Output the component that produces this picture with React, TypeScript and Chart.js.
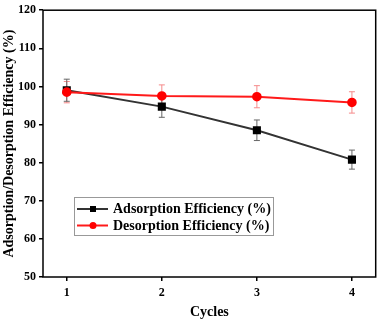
import React, { useEffect, useRef } from "react";
import { Chart, registerables } from "chart.js";

Chart.register(...registerables);

const cycles = [1, 2, 3, 4];
const adsorption = [99.0, 94.7, 88.5, 80.8];
const adsorptionErr = [2.9, 2.8, 2.7, 2.5];
const desorption = [98.5, 97.5, 97.3, 95.8];
const desorptionErr = [2.8, 2.9, 2.9, 2.8];
const yTicks = [50, 60, 70, 80, 90, 100, 110, 120];
const labels = ["Adsorption Efficiency (%)", "Desorption Efficiency (%)"];

const FONT = "'Liberation Serif', 'Times New Roman', serif";

export default function App() {
  const ref = useRef<HTMLCanvasElement | null>(null);
  useEffect(() => {
    document.body.style.margin = "0";
    const canvas = ref.current!;
    const errorBars = {
      id: "errorBars",
      beforeDatasetsDraw(chart: any) {
        const ctx = chart.ctx;
        const xs = chart.scales.x;
        const ys = chart.scales.y;
        chart.data.datasets.forEach((ds: any) => {
          const e: number[] = ds.errors;
          ctx.save();
          ctx.strokeStyle = ds.errColor;
          ctx.lineWidth = 1;
          ds.data.forEach((p: any, i: number) => {
            const px = xs.getPixelForValue(p.x);
            const top = ys.getPixelForValue(p.y + e[i]);
            const bot = ys.getPixelForValue(p.y - e[i]);
            ctx.beginPath();
            ctx.moveTo(px, top);
            ctx.lineTo(px, bot);
            ctx.moveTo(px - 3, top);
            ctx.lineTo(px + 3, top);
            ctx.moveTo(px - 3, bot);
            ctx.lineTo(px + 3, bot);
            ctx.stroke();
          });
          ctx.restore();
        });
      },
    };
    const frame = {
      id: "frame",
      afterDraw(chart: any) {
        const ctx = chart.ctx;
        const a = chart.chartArea;
        ctx.save();
        ctx.strokeStyle = "#000";
        ctx.lineWidth = 1.5;
        ctx.strokeRect(a.left, a.top, a.right - a.left, a.bottom - a.top);
        // legend
        const bx = 74, by = 197, bw = 199, bh = 38;
        ctx.fillStyle = "#fff";
        ctx.fillRect(bx, by, bw, bh);
        ctx.strokeStyle = "#999";
        ctx.lineWidth = 1;
        ctx.strokeRect(bx + 0.5, by + 0.5, bw, bh);
        const order = [1, 0];
        order.forEach((di, row) => {
          const ds = chart.data.datasets[di];
          const y = 209 + row * 16.5;
          ctx.strokeStyle = ds.borderColor;
          ctx.lineWidth = 2;
          ctx.beginPath();
          ctx.moveTo(77, y);
          ctx.lineTo(108, y);
          ctx.stroke();
          ctx.fillStyle = ds.pointBackgroundColor;
          if (ds.pointStyle === "rect") {
            ctx.fillRect(93 - 3, y - 3, 6, 6);
          } else {
            ctx.beginPath();
            ctx.arc(93, y, 3.5, 0, Math.PI * 2);
            ctx.fill();
          }
          ctx.fillStyle = "#000";
          ctx.font = `bold 14px ${FONT}`;
          ctx.textBaseline = "middle";
          ctx.textAlign = "left";
          ctx.fillText(ds.label, 113, y + 0.5);
        });
        ctx.restore();
      },
    };
    const chart = new Chart(canvas, {
      type: "line",
      data: {
        datasets: [
          {
            label: labels[1],
            data: cycles.map((c, i) => ({ x: c, y: desorption[i] })),
            borderColor: "#ff1a1a",
            backgroundColor: "#ff0000",
            pointBackgroundColor: "#ff0000",
            pointBorderColor: "#ff0000",
            pointStyle: "circle",
            pointRadius: 3.8,
            borderWidth: 2,
            errors: desorptionErr,
            errColor: "#f58a8a",
          } as any,
          {
            label: labels[0],
            data: cycles.map((c, i) => ({ x: c, y: adsorption[i] })),
            borderColor: "#333333",
            backgroundColor: "#000",
            pointBackgroundColor: "#000",
            pointBorderColor: "#000",
            pointStyle: "rect",
            pointRadius: 4.3,
            borderWidth: 2,
            errors: adsorptionErr,
            errColor: "#666666",
          } as any,
        ],
      },
      options: {
        animation: false,
        responsive: false,
        layout: { padding: { top: 6, right: 3, left: 0, bottom: 0 } },
        plugins: { legend: { display: false }, tooltip: { enabled: false } },
        scales: {
          x: {
            type: "linear",
            min: 0.75,
            max: 4.25,
            afterBuildTicks: (s: any) => {
              s.ticks = cycles.map((v) => ({ value: v }));
            },
            afterFit: (s: any) => {
              s.height = 45;
            },
            grid: { display: true, drawOnChartArea: false, drawTicks: true, tickLength: 4, color: "#000", lineWidth: 1.5 },
            border: { display: false },
            ticks: { color: "#000", font: { family: FONT, size: 12, weight: "bold" }, padding: 5 },
            title: { display: true, text: "Cycles", color: "#000", font: { family: FONT, size: 14, weight: "bold" }, padding: { top: 0, bottom: 1 } },
          },
          y: {
            min: 50,
            max: 120,
            afterBuildTicks: (s: any) => {
              s.ticks = yTicks.map((v) => ({ value: v }));
            },
            afterFit: (s: any) => {
              s.width = 43;
            },
            grid: { display: true, drawOnChartArea: false, drawTicks: true, tickLength: 4, color: "#000", lineWidth: 1.5 },
            border: { display: false },
            ticks: { color: "#000", font: { family: FONT, size: 12, weight: "bold" }, padding: 3 },
            title: { display: true, text: "Adsorption/Desorption Efficiency (%)", color: "#000", font: { family: FONT, size: 14, weight: "bold" }, padding: { top: 1, bottom: 0 } },
          },
        },
      },
      plugins: [errorBars, frame],
    });
    return () => chart.destroy();
  }, []);
  return <canvas ref={ref} width={382} height={322} style={{ display: "block" }} />;
}
